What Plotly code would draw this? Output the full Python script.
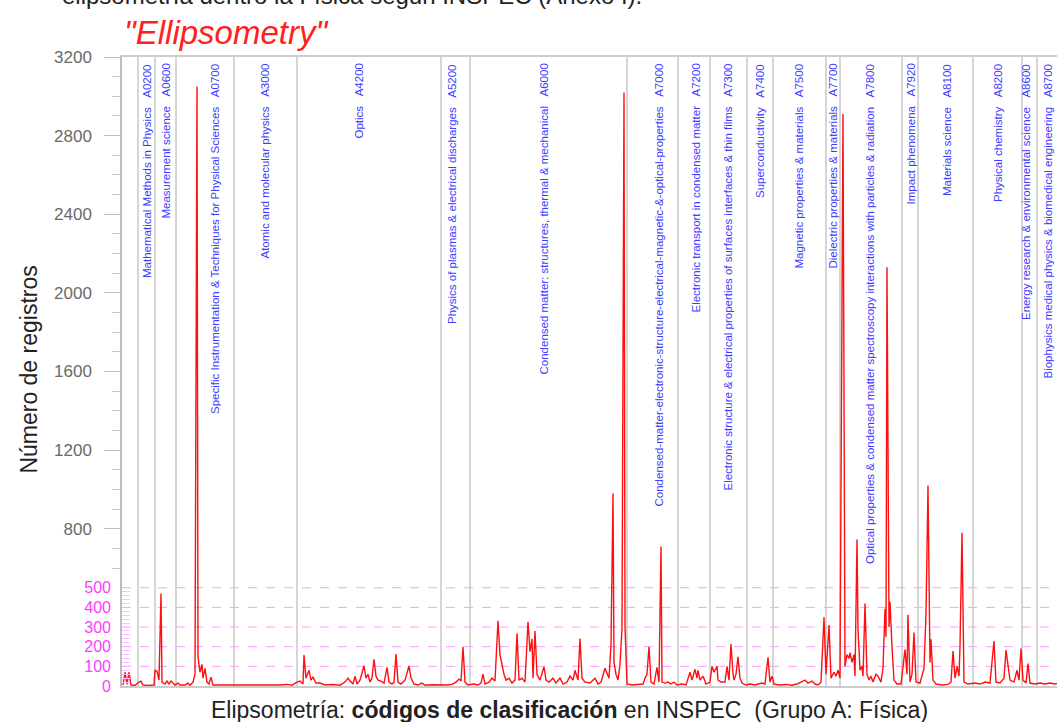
import plotly.graph_objects as go

# ---------------- data ----------------
# position along the INSPEC classification sequence (code index) and number of records
code_pos = [1, 3, 5, 7, 9, 13, 17, 19, 21, 26, 32, 33, 35, 37, 39, 40, 43, 45, 47, 49,
            51, 53, 56, 58, 63, 66, 68, 71, 73, 75, 76, 78, 80, 81, 83, 85, 87, 89, 91, 98,
            103, 118, 128, 138, 148, 158, 165, 170, 175, 178, 181, 182, 184, 187, 189, 191, 194, 198, 203, 211,
            218, 223, 226, 228, 231, 233, 235, 238, 242, 244, 246, 248, 250, 252, 254, 256, 259, 262, 265, 267,
            270, 272, 274, 276, 279, 283, 287, 289, 292, 296, 300, 303, 310, 318, 325, 330, 334, 337, 339, 341,
            343, 346, 352, 356, 359, 361, 363, 367, 370, 373, 376, 378, 380, 382, 384, 387, 390, 393, 395, 397,
            400, 403, 406, 408, 410, 411, 413, 415, 418, 422, 424, 427, 431, 434, 438, 441, 445, 448, 451, 453,
            456, 458, 460, 463, 468, 473, 476, 479, 483, 485, 487, 489, 491, 492, 494, 496, 498, 500, 502, 503,
            505, 510, 516, 521, 523, 525, 527, 529, 532, 535, 537, 539, 540, 543, 546, 549, 552, 555, 560, 564,
            568, 570, 573, 575, 576, 578, 581, 584, 588, 590, 592, 595, 596, 599, 603, 605, 607, 609, 611, 612,
            614, 616, 618, 620, 624, 628, 633, 637, 640, 643, 646, 648, 650, 652, 658, 664, 670, 675, 679, 683,
            686, 690, 693, 696, 699, 702, 704, 707, 709, 712, 714, 716, 718, 721, 723, 725, 727, 728, 730, 732,
            733, 735, 736, 738, 740, 741, 743, 745, 747, 749, 751, 754, 756, 759, 761, 763, 764, 765, 767, 768,
            770, 772, 775, 779, 783, 785, 786, 788, 790, 792, 794, 798, 802, 804, 806, 808, 809, 811, 814, 820,
            826, 829, 831, 833, 835, 837, 838, 840, 842, 846, 853, 858, 863, 868, 872, 874, 878, 882, 884, 886,
            888, 892, 895, 897, 899, 901, 904, 906, 908, 913, 918, 923, 928, 933, 935]
registros = [5, 70, 10, 70, 5, 3, 20, 25, 5, 3, 5, 80, 75, 30, 470, 20, 10, 25, 10, 25,
             15, 5, 15, 5, 5, 15, 3, 20, 60, 3050, 150, 70, 110, 40, 90, 20, 10, 45, 5, 5,
             3, 5, 3, 6, 3, 5, 8, 4, 20, 25, 10, 158, 40, 80, 30, 45, 15, 15, 5, 8,
             4, 20, 40, 25, 10, 50, 10, 30, 103, 40, 60, 20, 40, 136, 50, 30, 25, 15, 95, 20,
             10, 20, 163, 20, 10, 30, 102, 40, 10, 5, 15, 4, 6, 4, 5, 8, 20, 35, 25, 200,
             20, 5, 10, 5, 15, 60, 10, 20, 40, 25, 332, 158, 100, 60, 30, 40, 15, 30, 268, 30,
             40, 20, 327, 175, 240, 40, 280, 60, 30, 98, 30, 20, 40, 15, 40, 10, 20, 50, 30, 80,
             30, 242, 40, 20, 15, 40, 10, 20, 90, 60, 40, 208, 980, 120, 60, 30, 110, 293, 3020, 300,
             10, 5, 8, 10, 40, 60, 200, 20, 10, 95, 20, 710, 20, 15, 20, 10, 20, 5, 10, 5,
             70, 30, 85, 40, 80, 30, 50, 10, 20, 100, 70, 100, 30, 20, 20, 100, 30, 214, 60, 30,
             60, 149, 40, 15, 5, 10, 5, 10, 15, 10, 146, 20, 50, 10, 5, 8, 4, 10, 20, 30,
             15, 25, 10, 5, 20, 350, 60, 310, 40, 70, 50, 80, 40, 2910, 100, 160, 140, 170, 120, 160,
             50, 745, 290, 80, 100, 50, 419, 60, 30, 50, 20, 60, 50, 20, 90, 393, 250, 2130, 300, 428,
             200, 30, 10, 10, 186, 60, 362, 20, 60, 272, 20, 15, 90, 367, 1020, 120, 238, 30, 10, 5,
             8, 20, 178, 40, 100, 50, 200, 780, 20, 10, 15, 10, 20, 15, 229, 20, 15, 40, 183, 100,
             30, 20, 80, 30, 190, 30, 15, 114, 15, 10, 15, 10, 15, 10, 12]

# category boundaries along the code sequence
boundaries = [16, 33, 54, 112, 175, 319, 348, 505, 556, 588, 625, 651, 704, 718, 780, 796, 851, 900, 915]

# category labels and their positions along the code sequence
categories = [
    "Mathematical Methods in Physics   A0200",
    "Measurement science   A0600",
    "Specific Instrumentation & Techniques for Physical Sciences   A0700",
    "Atomic and molecular physics   A3000",
    "Optics   A4200",
    "Physics of plasmas & electrical discharges   A5200",
    "Condensed matter: structures, thermal & mechanical   A6000",
    "Condensed-matter-electronic-structure-electrical-magnetic-&-optical-properties   A7000",
    "Electronic transport in condensed matter   A7200",
    "Electronic structure & electrical properties of surfaces interfaces & thin films   A7300",
    "Superconductivity   A7400",
    "Magnetic properties & materials   A7500",
    "Dielectric properties & materials   A7700",
    "Optical properties & condensed matter spectroscopy interactions with particles & radiation   A7800",
    "Impact phenomena   A7920",
    "Materials science   A8100",
    "Physical chemistry   A8200",
    "Energy research & environmental science   A8600",
    "Biophysics medical physics & biomedical engineering   A8700",
]
category_pos = [25, 43, 93, 142, 236, 330, 421, 536, 573, 605, 638, 676, 710, 748, 788, 825, 876, 904, 925]

upper_ticks = [800, 1200, 1600, 2000, 2400, 2800, 3200]
lower_ticks = [0, 100, 200, 300, 400, 500]
upper_minor = [600, 700, 900, 1000, 1100, 1300, 1400, 1500, 1700, 1800, 1900, 2100, 2200, 2300,
               2500, 2600, 2700, 2900, 3000, 3100]
lower_minor = [20, 40, 60, 80, 120, 140, 160, 180, 220, 240, 260, 280, 320, 340, 360, 380,
               420, 440, 460, 480]

FONT = "Arial, Liberation Sans, sans-serif"

# ---------------- figure ----------------
fig = go.Figure()

# invisible trace to hold the main y axis
fig.add_trace(go.Scatter(x=[code_pos[0]], y=[registros[0]], mode="lines",
                         line=dict(width=0), hoverinfo="skip", showlegend=False, yaxis="y"))
# the series
fig.add_trace(go.Scatter(x=code_pos, y=registros, mode="lines",
                         line=dict(color="#ff1010", width=1.4), showlegend=False, yaxis="y2"))

# category separators
for b in boundaries:
    fig.add_shape(type="line", xref="x", yref="y", x0=b, x1=b, y0=0, y1=3200,
                  line=dict(color="#c9c9c9", width=1.5), layer="below")

# dashed magenta reference lines of the lower scale
for v in lower_ticks[1:]:
    fig.add_shape(type="line", xref="paper", yref="y", x0=0, x1=1, y0=v, y1=v,
                  line=dict(color="#ff9cff", width=1, dash="dash"), layer="below")

NBSP = "\u00a0"
for name, pos in zip(categories, category_pos):
    fig.add_annotation(x=pos, xref="x", y=1, yref="paper", yanchor="top", yshift=-5,
                       text=name.replace("   ", NBSP * 3), textangle=-90, showarrow=False,
                       font=dict(family=FONT, size=11.5, color="#3c3cff"))

# title and axis titles
fig.add_annotation(x=0.0, xref="paper", xanchor="left", y=1, yref="paper", yanchor="bottom",
                   yshift=4, text='<i>"Ellipsometry"</i>', showarrow=False,
                   font=dict(family=FONT, size=33, color="#ff2020"))
fig.add_annotation(x=0, xref="paper", xshift=-62, xanchor="left", y=1, yref="paper",
                   yanchor="middle", yshift=62, showarrow=False,
                   text="elipsometría dentro la Física según INSPEC (Anexo I).",
                   font=dict(family=FONT, size=24, color="#222222"))
fig.add_annotation(x=0.479, xref="paper", y=0, yref="paper", yanchor="middle", yshift=-24,
                   text="Elipsometría: <b>códigos de clasificación</b> en INSPEC  (Grupo A: Física)",
                   showarrow=False, font=dict(family=FONT, size=23, color="#222222"))
fig.add_annotation(x=0, xref="paper", xshift=-108, y=0.503, yref="paper",
                   text="Número de registros", textangle=-90, showarrow=False,
                   font=dict(family=FONT, size=23, color="#222222"))

fig.update_layout(
    width=1057, height=722,
    margin=dict(l=122, r=0, t=57, b=36),
    paper_bgcolor="white", plot_bgcolor="white",
    showlegend=False,
    xaxis=dict(range=[0, 935], showticklabels=False, ticks="", showgrid=False, zeroline=False,
               showline=True, linecolor="#cccccc", linewidth=1.5, mirror=True),
    yaxis=dict(range=[0, 3200], tickmode="array", tickvals=upper_ticks,
               ticktext=[str(v) for v in upper_ticks],
               tickfont=dict(family=FONT, size=17, color="#6a6a6a"),
               ticks="outside", ticklen=16, tickcolor="#bdbdbd", tickwidth=1,
               ticklabelstandoff=9,
               showline=True, linecolor="#bdbdbd", linewidth=1.5,
               showgrid=False, zeroline=False,
               minor=dict(tickmode="array", tickvals=upper_minor, ticks="outside",
                          ticklen=8, tickcolor="#c8c8c8", showgrid=False)),
    yaxis2=dict(range=[0, 3200], overlaying="y", side="left", tickmode="array",
                tickvals=lower_ticks, ticktext=[str(v) for v in lower_ticks],
                tickfont=dict(family=FONT, size=16, color="#ff3cff"),
                ticks="", ticklabelstandoff=10,
                showline=False, zeroline=False, showgrid=False,
                minor=dict(tickmode="array", tickvals=lower_minor, ticks="inside",
                           ticklen=8, tickcolor="#ffc0ff", showgrid=False)),
)

fig.write_html("out.html")
